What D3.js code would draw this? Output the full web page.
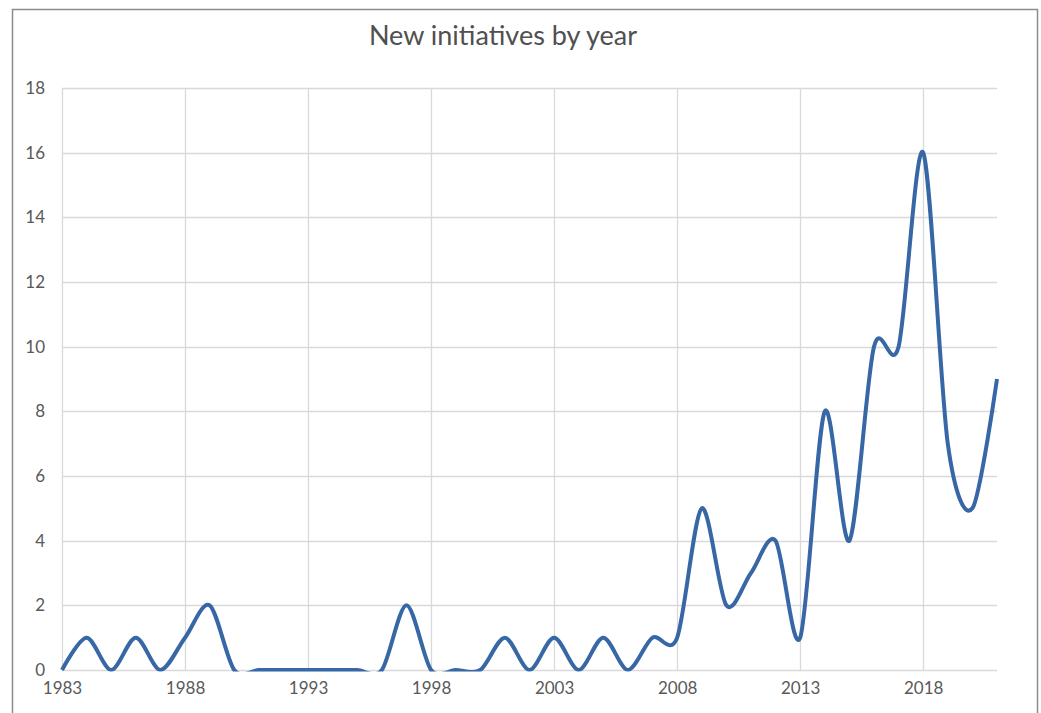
<!DOCTYPE html>
<html>
<head>
<meta charset="utf-8">
<script src="https://cdn.jsdelivr.net/npm/d3@7"></script>
<style>
  body { margin: 0; background: #fff; }
  svg { display: block; }
</style>
</head>
<body>
<div id="chart"></div>
<script>
// data
var years = [1983, 1984, 1985, 1986, 1987, 1988, 1989, 1990, 1991, 1992,
             1993, 1994, 1995, 1996, 1997, 1998, 1999, 2000, 2001, 2002,
             2003, 2004, 2005, 2006, 2007, 2008, 2009, 2010, 2011, 2012,
             2013, 2014, 2015, 2016, 2017, 2018, 2019, 2020, 2021];
var initiatives = [0, 1, 0, 1, 0, 1, 2, 0, 0, 0,
                   0, 0, 0, 0, 2, 0, 0, 0, 1, 0,
                   1, 0, 1, 0, 1, 1, 5, 2, 3, 4,
                   1, 8, 4, 10, 10, 16, 7, 5, 9];
var xTicks = [1983, 1988, 1993, 1998, 2003, 2008, 2013, 2018];
var yTicks = [0, 2, 4, 6, 8, 10, 12, 14, 16, 18];

var W = 1041, H = 713;
var margin = {top: 88, right: 44, bottom: 43, left: 62};

var svg = d3.select("#chart").append("svg")
    .attr("width", W)
    .attr("height", H);

// chart frame
svg.append("rect")
    .attr("x", 12.5).attr("y", 9.5)
    .attr("width", 1025).attr("height", 720)
    .attr("fill", "#fff")
    .attr("stroke", "#8c8c8c")
    .attr("stroke-width", 1.5);

var x = d3.scaleLinear()
    .domain([1983, 2021])
    .range([margin.left, W - margin.right]);

var y = d3.scaleLinear()
    .domain([0, 18])
    .range([H - margin.bottom, margin.top]);

// gridlines
svg.append("g")
  .selectAll("line.h")
  .data(yTicks)
  .enter().append("line")
    .attr("x1", x(1983)).attr("x2", x(2021))
    .attr("y1", function(d) { return Math.round(y(d)) + 0.5; })
    .attr("y2", function(d) { return Math.round(y(d)) + 0.5; })
    .attr("stroke", "#d9d9d9")
    .attr("stroke-width", 1.3);

svg.append("g")
  .selectAll("line.v")
  .data(xTicks)
  .enter().append("line")
    .attr("x1", function(d) { return Math.round(x(d)) + 0.5; })
    .attr("x2", function(d) { return Math.round(x(d)) + 0.5; })
    .attr("y1", y(18)).attr("y2", y(0))
    .attr("stroke", "#d9d9d9")
    .attr("stroke-width", 1.3);

// axes (labels only, Excel style)
var yAxis = svg.append("g")
    .attr("transform", "translate(" + (margin.left - 17) + ",0)")
    .call(d3.axisLeft(y).tickValues(yTicks).tickSize(0).tickPadding(0));
yAxis.select(".domain").remove();

var xAxis = svg.append("g")
    .attr("transform", "translate(0," + (H - margin.bottom + 12) + ")")
    .call(d3.axisBottom(x).tickValues(xTicks).tickFormat(d3.format("d")).tickSize(0).tickPadding(0));
xAxis.select(".domain").remove();

svg.selectAll(".tick text")
    .attr("fill", "#595959")
    .style("font-family", "Lato, 'Open Sans', sans-serif")
    .style("font-size", "17px");

// clip below zero like Excel does
svg.append("clipPath").attr("id", "plot")
  .append("rect")
    .attr("x", x(1983) - 4).attr("y", y(18) - 10)
    .attr("width", x(2021) - x(1983) + 8)
    .attr("height", y(0) - y(18) + 11.5);

var line = d3.line()
    .x(function(d, i) { return x(years[i]); })
    .y(function(d) { return y(d); })
    .curve(d3.curveCardinal.tension(0.1));

svg.append("path")
    .datum(initiatives)
    .attr("clip-path", "url(#plot)")
    .attr("fill", "none")
    .attr("stroke", "#3867a6")
    .attr("stroke-width", 4)
    .attr("stroke-linejoin", "round")
    .attr("d", line);

// title
svg.append("text")
    .attr("x", 503)
    .attr("y", 45)
    .attr("text-anchor", "middle")
    .attr("fill", "#505050")
    .style("font-family", "Lato, 'Open Sans', sans-serif")
    .style("font-size", "27px")
    .text("New initiatives by year");
</script>
</body>
</html>
